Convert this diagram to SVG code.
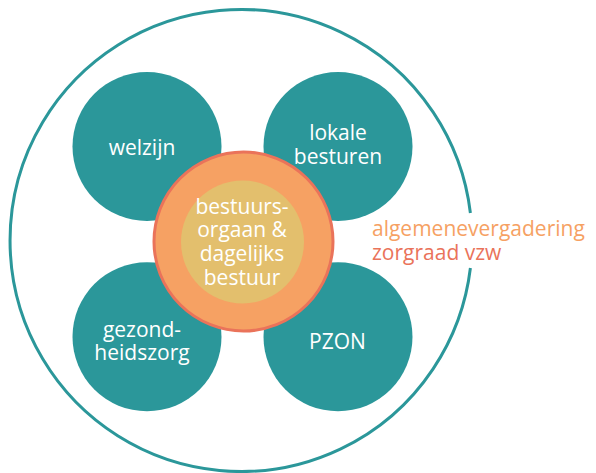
<svg xmlns="http://www.w3.org/2000/svg" width="596" height="473" viewBox="0 0 596 473">
<style>
.teal{fill:#2b979a}
.lbl{font-family:"Open Sans","Liberation Sans",sans-serif;font-size:21px;fill:#ffffff;text-anchor:middle}
.side{font-family:"Open Sans","Liberation Sans",sans-serif;font-size:21px}
</style>
<rect width="596" height="473" fill="#ffffff"/>
<g id="algemene-vergadering">
<path d="M470.4 268 A231 231 0 1 1 470.4 213" fill="none" stroke="#2b979a" stroke-width="3"/>
<text class="side" x="372" y="236" fill="#f6a163">algemenevergadering</text>
<text class="side" x="372" y="260" fill="#ea735a">zorgraad vzw</text>
</g>
<g id="welzijn">
<circle class="teal" cx="147" cy="146.5" r="74.5"/>
<text class="lbl" x="142" y="155">welzijn</text>
</g>
<g id="lokale-besturen">
<circle class="teal" cx="338" cy="146.5" r="74.5"/>
<text class="lbl" x="338" y="139.5">lokale</text>
<text class="lbl" x="338" y="163.5">besturen</text>
</g>
<g id="gezondheidszorg">
<circle class="teal" cx="147" cy="336.8" r="74.5"/>
<text class="lbl" x="142" y="336.5">gezond-</text>
<text class="lbl" x="142" y="359.5">heidszorg</text>
</g>
<g id="pzon">
<circle class="teal" cx="338" cy="336.8" r="74.5"/>
<text class="lbl" x="337.5" y="349">PZON</text>
</g>
<g id="bestuursorgaan">
<circle cx="243.5" cy="241.5" r="89.5" fill="#f6a163" stroke="#ea735a" stroke-width="3"/>
<circle cx="242.5" cy="242" r="61.5" fill="#e3bf6d"/>
<text class="lbl" x="242" y="214">bestuurs-</text>
<text class="lbl" x="242" y="237">orgaan &amp;</text>
<text class="lbl" x="242" y="261">dagelijks</text>
<text class="lbl" x="242" y="285">bestuur</text>
</g>
<g id="connectors"/>
</svg>
